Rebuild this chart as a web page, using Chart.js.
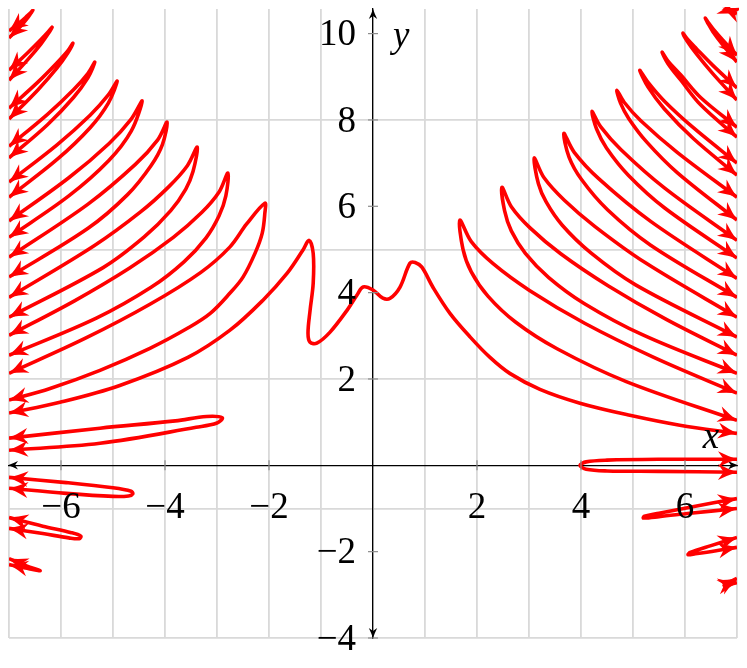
<!DOCTYPE html>
<html><head><meta charset="utf-8">
<script src="https://cdn.jsdelivr.net/npm/chart.js@4.4.1/dist/chart.umd.min.js"></script>
<style>html,body{margin:0;padding:0;background:#fff;}#wrap{width:747px;height:668px;}</style>
</head><body><div id="wrap"><canvas id="c" width="747" height="668"></canvas></div>
<script>
// ---- tick / grid values ----
const xLabelTicks = [-6, -4, -2, 2, 4, 6];
const xGridTicks = [-7, -6, -5, -4, -3, -2, -1, 0, 1, 2, 3, 4, 5, 6, 7];
const yLabelTicks = [-4, -2, 2, 4, 6, 8, 10];
const yGridTicks = [-4, -1, 2, 5, 8];

// ---- curve pieces ([x, y]) ----
const centralCurve = [[-7,1.21],[-6.02,1.46],[-4.87,1.85],[-3.56,2.50],[-2.75,3.13],[-2.12,3.82],[-1.65,4.45],[-1.35,4.98],[-1.23,5.21],[-1.15,4.91],[-1.15,4.22],[-1.21,3.59],[-1.25,3.06],[-1.21,2.85],[-1.08,2.83],[-0.83,3.08],[-0.50,3.59],[-0.31,3.94],[-0.19,4.13],[0,4.06],[0.19,3.87],[0.33,3.87],[0.52,4.13],[0.71,4.68],[0.81,4.70],[0.94,4.59],[1.15,4.13],[1.48,3.52],[1.87,2.97],[2.25,2.50],[2.63,2.13],[3.21,1.76],[3.98,1.44],[4.94,1.16],[5.90,0.93],[7,0.74]];

const leftLoop1 = [[-7,10.06],[-6.79,10.26],[-6.65,10.41],[-6.58,10.49],[-6.54,10.54],[-6.58,10.47],[-6.65,10.35],[-6.79,10.15],[-7,9.90]];
const leftLoop2 = [[-7,9.15],[-6.63,9.57],[-6.38,9.87],[-6.24,10.05],[-6.17,10.15],[-6.24,10.01],[-6.38,9.77],[-6.63,9.41],[-7,8.92]];
const leftLoop3 = [[-7,8.27],[-6.45,8.87],[-6.08,9.32],[-5.87,9.60],[-5.77,9.78],[-5.87,9.55],[-6.08,9.20],[-6.45,8.69],[-7,8.02]];
const leftLoop4 = [[-7,7.39],[-6.26,8.13],[-5.76,8.70],[-5.48,9.08],[-5.35,9.34],[-5.48,8.98],[-5.76,8.52],[-6.26,7.89],[-7,7.12]];
const leftLoop5 = [[-7,6.56],[-6.07,7.43],[-5.44,8.11],[-5.09,8.58],[-4.92,8.90],[-5.09,8.39],[-5.44,7.82],[-6.07,7.09],[-7,6.21]];
const leftLoop6 = [[-7,5.66],[-5.85,6.66],[-5.08,7.45],[-4.65,8.02],[-4.44,8.44],[-4.65,7.74],[-5.08,7.06],[-5.85,6.24],[-7,5.28]];
const leftLoop7 = [[-7,4.82],[-5.48,6.05],[-4.57,6.97],[-4.14,7.54],[-3.96,7.95],[-4.05,7.43],[-4.27,6.94],[-4.72,6.27],[-5.48,5.49],[-7,4.36]];
const leftLoop8 = [[-7,3.89],[-5.37,5.08],[-4.47,5.87],[-3.93,6.45],[-3.57,6.94],[-3.38,7.37],[-3.46,6.81],[-3.60,6.40],[-3.89,5.90],[-4.40,5.29],[-5.19,4.58],[-7,3.43]];
const leftLoop9 = [[-7,3.01],[-5.74,3.81],[-4.68,4.57],[-3.84,5.28],[-3.29,5.86],[-2.96,6.33],[-2.79,6.77],[-2.83,6.24],[-2.96,5.78],[-3.21,5.27],[-3.63,4.72],[-4.26,4.13],[-5.32,3.41],[-7,2.55]];
const leftLoop10 = [[-7,2.13],[-5.52,2.95],[-4.29,3.73],[-3.31,4.47],[-2.75,5.06],[-2.43,5.59],[-2.08,6.07],[-2.08,5.84],[-2.13,5.38],[-2.27,4.91],[-2.50,4.36],[-2.75,3.99],[-3.13,3.52],[-3.56,3.18],[-4.29,2.71],[-5.25,2.20],[-6.21,1.78],[-7,1.51]];

const rightLoop1 = [[7,1.67],[5.40,2.50],[4.07,3.29],[3.01,4.05],[2.31,4.67],[1.89,5.18],[1.67,5.68],[1.73,5.01],[1.89,4.48],[2.21,3.92],[2.74,3.32],[3.54,2.70],[4.87,1.94],[7,1.04]];
const rightLoop2 = [[7,2.55],[5.64,3.38],[4.52,4.16],[3.61,4.90],[3.02,5.50],[2.66,5.99],[2.48,6.44],[2.53,5.90],[2.66,5.43],[2.93,4.91],[3.38,4.35],[4.06,3.75],[5.19,3.02],[7,2.13]];
const rightLoop3 = [[7,3.43],[5.24,4.69],[4.27,5.53],[3.68,6.14],[3.29,6.66],[3.10,7.12],[3.18,6.53],[3.33,6.10],[3.64,5.56],[4.19,4.92],[5.05,4.18],[7,2.97]];
const rightLoop4 = [[7,4.33],[5.34,5.65],[4.34,6.64],[3.87,7.25],[3.67,7.69],[3.77,7.14],[4.01,6.62],[4.51,5.92],[5.34,5.10],[7,3.89]];
const rightLoop5 = [[7,5.21],[5.61,6.42],[4.77,7.31],[4.38,7.84],[4.21,8.20],[4.30,7.79],[4.49,7.35],[4.91,6.72],[5.61,5.96],[7,4.80]];
const rightLoop6 = [[7,6.21],[5.85,7.25],[5.15,7.98],[4.83,8.41],[4.69,8.69],[4.76,8.39],[4.92,8.03],[5.27,7.48],[5.85,6.78],[7,5.68]];
const rightLoop7 = [[7,7.00],[6.16,7.82],[5.60,8.44],[5.29,8.87],[5.13,9.15],[5.29,8.76],[5.60,8.26],[6.16,7.57],[7,6.72]];
const rightLoop8 = [[7,7.83],[6.30,8.52],[5.92,9.04],[5.67,9.37],[5.56,9.57],[5.67,9.31],[5.92,8.92],[6.30,8.35],[7,7.60]];
const rightLoop9 = [[7,8.74],[6.53,9.27],[6.22,9.65],[6.04,9.88],[5.96,10.01],[6.04,9.83],[6.22,9.53],[6.53,9.08],[7,8.46]];
const rightLoop10 = [[7,9.50],[6.72,9.86],[6.54,10.11],[6.44,10.27],[6.39,10.36],[6.44,10.24],[6.54,10.04],[6.72,9.75],[7,9.34]];
const rightLoop11 = [[6.72,10.60],[6.86,10.53],[7,10.46]];

const leftFlat1 = [[-7,0.63],[-5.25,0.86],[-3.8,1.03],[-3.2,1.13],[-2.9,1.10],[-3.0,0.98],[-3.4,0.88],[-5.25,0.51],[-7,0.35]];
const leftFlat2 = [[-7,-0.28],[-5.9,-0.40],[-5.0,-0.52],[-4.65,-0.60],[-4.62,-0.66],[-4.7,-0.71],[-5.0,-0.72],[-5.9,-0.65],[-7,-0.53]];
const leftFlat3 = [[-7,-1.21],[-6.35,-1.41],[-5.8,-1.56],[-5.62,-1.64],[-5.65,-1.70],[-5.85,-1.68],[-6.35,-1.58],[-7,-1.46]];
const leftFlat4 = [[-7,-2.16],[-6.6,-2.36],[-6.4,-2.44],[-6.6,-2.40],[-7,-2.30]];

const rightFlat1 = [[7,0.14],[5.5,0.14],[4.5,0.12],[4.1,0.08],[3.98,0.0],[4.1,-0.09],[4.5,-0.13],[5.5,-0.14],[7,-0.16]];
const rightFlat2 = [[7,-0.77],[6.1,-0.97],[5.5,-1.11],[5.22,-1.18],[5.2,-1.22],[5.5,-1.19],[6.1,-1.11],[7,-1.0]];
const rightFlat3 = [[7,-1.67],[6.5,-1.86],[6.1,-2.02],[6.06,-2.07],[6.2,-2.05],[6.6,-1.98],[7,-1.90]];
const rightFlat4 = [[7,-2.62],[6.75,-2.78],[7,-2.72]];

const pieces = [centralCurve, leftLoop1, leftLoop2, leftLoop3, leftLoop4, leftLoop5, leftLoop6, leftLoop7, leftLoop8, leftLoop9, leftLoop10,
  rightLoop1, rightLoop2, rightLoop3, rightLoop4, rightLoop5, rightLoop6, rightLoop7, rightLoop8, rightLoop9, rightLoop10, rightLoop11,
  leftFlat1, leftFlat2, leftFlat3, leftFlat4, rightFlat1, rightFlat2, rightFlat3, rightFlat4];

const RED = '#ff0000';
const FONT = '"Liberation Serif", "DejaVu Serif", serif';
const fmt = v => (v < 0 ? '\u2212' + Math.abs(v) : String(v));

function head(ctx, tx, ty, ang, len, hw, color) {
  ctx.save();
  ctx.translate(tx, ty); ctx.rotate(ang);
  ctx.beginPath();
  ctx.moveTo(0, 0);
  ctx.quadraticCurveTo(-len * 0.45, hw * 0.35, -len, hw);
  ctx.lineTo(-len * 0.7, 0);
  ctx.lineTo(-len, -hw);
  ctx.quadraticCurveTo(-len * 0.45, -hw * 0.35, 0, 0);
  ctx.closePath();
  ctx.fillStyle = color; ctx.fill();
  ctx.restore();
}

const decor = {
  id: 'decor',
  afterDatasetsDraw(chart) {
    const {ctx, chartArea: a, scales: {x, y}} = chart;
    const x0 = x.getPixelForValue(0), y0 = y.getPixelForValue(0);
    ctx.save();
    ctx.strokeStyle = '#8c8c8c'; ctx.lineWidth = 1.2;
    x.ticks.forEach(t => { if (!xLabelTicks.includes(t.value)) return; const p = x.getPixelForValue(t.value); ctx.beginPath(); ctx.moveTo(p, y0 - 5); ctx.lineTo(p, y0 + 5); ctx.stroke(); });
    y.ticks.forEach(t => { const p = y.getPixelForValue(t.value); ctx.beginPath(); ctx.moveTo(x0 - 5, p); ctx.lineTo(x0 + 5, p); ctx.stroke(); });
    ctx.fillStyle = '#000';
    ctx.font = '37px ' + FONT;
    ctx.textBaseline = 'middle';
    ctx.textAlign = 'center';
    x.ticks.forEach(t => { if (!xLabelTicks.includes(t.value)) return; ctx.fillText(fmt(t.value), x.getPixelForValue(t.value), y0 + 43); });
    ctx.textAlign = 'right';
    y.ticks.forEach(t => { ctx.fillText(fmt(t.value), x0 - 17, y.getPixelForValue(t.value) + 2); });
    head(ctx, a.right + 1, y0, 0, 10, 4.2, '#000');
    head(ctx, a.left - 1, y0, Math.PI, 10, 4.2, '#000');
    head(ctx, x0, a.top, -Math.PI / 2, 10, 4.2, '#000');
    head(ctx, x0, a.bottom, Math.PI / 2, 10, 4.2, '#000');
    ctx.beginPath(); ctx.rect(a.left - 2, a.top - 2, a.right - a.left + 4, a.bottom - a.top + 4); ctx.clip();
    chart.data.datasets.forEach((ds, i) => {
      const pts = chart.getDatasetMeta(i).data;
      const n = pts.length;
      if (n < 2) return;
      const f = pts[0], f2 = pts[1], l = pts[n - 1], l2 = pts[n - 2];
      const c1x = f.cp2x !== undefined ? f.cp2x : f2.x, c1y = f.cp2y !== undefined ? f.cp2y : f2.y;
      const c2x = l.cp1x !== undefined ? l.cp1x : l2.x, c2y = l.cp1y !== undefined ? l.cp1y : l2.y;
      head(ctx, f.x, f.y, Math.atan2(f.y - c1y, f.x - c1x), 19, 8, RED);
      head(ctx, l.x, l.y, Math.atan2(l.y - c2y, l.x - c2x), 19, 8, RED);
    });
    ctx.restore();
    ctx.save();
    ctx.fillStyle = '#000';
    ctx.font = 'italic 37px ' + FONT;
    ctx.textBaseline = 'alphabetic';
    ctx.textAlign = 'center';
    ctx.fillText('x', x.getPixelForValue(6.5), y0 - 17);
    ctx.textAlign = 'left';
    ctx.fillText('y', x0 + 20, y.getPixelForValue(10) + 13);
    ctx.restore();
  }
};

new Chart(document.getElementById('c'), {
  type: 'scatter',
  data: {
    datasets: pieces.map((p, i) => ({
      label: 'piece' + i,
      data: p.map(([px, py]) => ({x: px, y: py})),
      showLine: true, borderColor: RED, borderWidth: 3.6, pointRadius: 0, pointHoverRadius: 0,
      tension: 0.35, fill: false, clip: 0
    }))
  },
  options: {
    responsive: false, animation: false, devicePixelRatio: 1,
    layout: {padding: {left: 9, right: 10, top: 9, bottom: 30}},
    plugins: {legend: {display: false}, tooltip: {enabled: false}},
    scales: {
      x: {
        type: 'linear', min: -7, max: 7, position: {y: 0},
        afterBuildTicks: s => { s.ticks = xGridTicks.map(v => ({value: v})); },
        ticks: {display: false},
        grid: {color: '#d9d9d9', lineWidth: 1.8, drawTicks: false},
        border: {color: '#000', width: 1.3}
      },
      y: {
        type: 'linear', min: -4, max: 10.57, position: {x: 0},
        afterBuildTicks: s => { s.ticks = yLabelTicks.map(v => ({value: v})); },
        ticks: {display: false},
        grid: {drawOnChartArea: false, drawTicks: false},
        border: {color: '#000', width: 1.3}
      },
      yg: {
        type: 'linear', min: -4, max: 10.57, position: {x: 0}, axis: 'y',
        afterBuildTicks: s => { s.ticks = yGridTicks.map(v => ({value: v})); },
        ticks: {display: false},
        grid: {color: '#d9d9d9', lineWidth: 1.8, drawTicks: false},
        border: {display: false}
      }
    }
  },
  plugins: [decor]
});
</script></body></html>
